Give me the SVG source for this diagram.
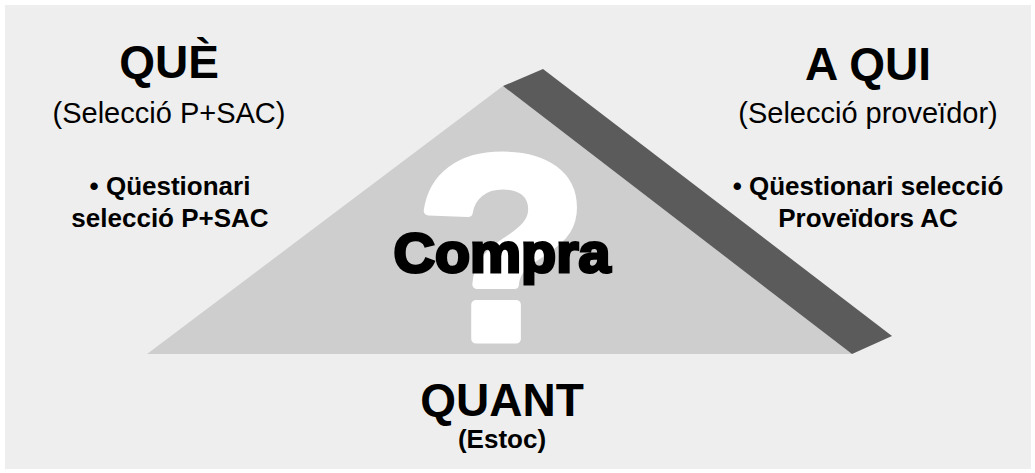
<svg xmlns="http://www.w3.org/2000/svg" width="1035" height="473" viewBox="0 0 1035 473">
<style>
.t{font-family:"Liberation Sans",Arial,sans-serif;fill:#000;text-anchor:middle}
.h{font-size:46px;font-weight:bold}
.s{font-size:29px}
.b{font-size:26px;font-weight:bold}
</style>
<rect x="0" y="0" width="1035" height="473" fill="#ffffff"/>
<rect x="5" y="5" width="1026" height="464" fill="#eeeeee"/>
<g id="pyramid">
<polygon points="503,86 147,354 852,354" fill="#cecece"/>
<polygon points="503,86 543,69 892,336 852,354" fill="#5b5b5b"/>
<text x="502" y="339" font-family="Liberation Sans, Arial, sans-serif" font-weight="bold" font-size="262" fill="#ffffff" stroke="#ffffff" stroke-width="9" stroke-linejoin="round" text-anchor="middle" transform="translate(502 0) scale(1.08 1) translate(-502 0)">?</text>
<text class="t" x="502" y="272" font-size="56" font-weight="bold" stroke="#000" stroke-width="3" textLength="217" lengthAdjust="spacingAndGlyphs">Compra</text>
</g>
<g id="que">
<text class="t h" x="169" y="78">QUÈ</text>
<text class="t s" x="169" y="123">(Selecció P+SAC)</text>
<text class="t b" x="170" y="195">• Qüestionari</text>
<text class="t b" x="170" y="227">selecció P+SAC</text>
</g>
<g id="aqui">
<text class="t h" x="868" y="80">A QUI</text>
<text class="t s" x="868" y="123">(Selecció proveïdor)</text>
<text class="t b" x="868" y="195">• Qüestionari selecció</text>
<text class="t b" x="868" y="227">Proveïdors AC</text>
</g>
<g id="quant">
<text class="t h" x="502" y="416">QUANT</text>
<text class="t b" x="502" y="448">(Estoc)</text>
</g>
</svg>
